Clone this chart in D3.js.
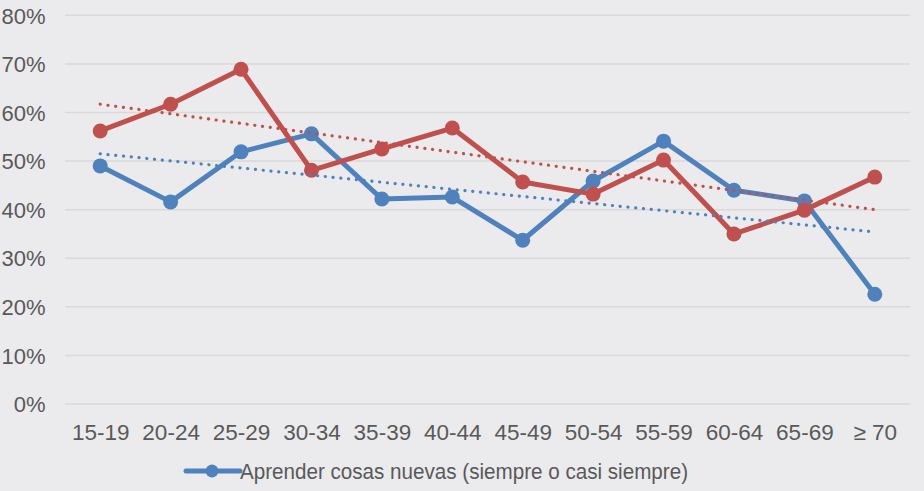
<!DOCTYPE html>
<html>
<head>
<meta charset="utf-8">
<script src="https://cdn.jsdelivr.net/npm/d3@7/dist/d3.min.js"></script>
<style>
  html, body { margin: 0; padding: 0; background: #ebebed; }
  svg { display: block; font-family: "Liberation Sans", Arial, sans-serif; }
</style>
</head>
<body>
<svg id="chart" width="924" height="491"></svg>
<script>
// Age groups along the horizontal axis
const categories = ["15-19", "20-24", "25-29", "30-34", "35-39", "40-44",
                    "45-49", "50-54", "55-59", "60-64", "65-69", "\u2265 70"];

// Share (%) per age group
const aprenderValues = [49.0, 41.6, 51.9, 55.6, 42.2, 42.6, 33.7, 45.9, 54.1, 44.0, 41.8, 22.6];
const seriesBValues  = [56.2, 61.7, 68.9, 48.1, 52.5, 56.8, 45.7, 43.2, 50.2, 35.0, 39.9, 46.7];

// Linear trend, value at the first and last age group
const aprenderTrend = [51.5, 35.4];
const seriesBTrend  = [61.7, 40.0];

const yTicks = [0, 10, 20, 30, 40, 50, 60, 70, 80];
const legendLabel = "Aprender cosas nuevas (siempre o casi siempre)";

const BLUE = "#4f81bd", RED = "#c0504d", TEXT = "#595959", GRID = "#d9d9d9";

const svg = d3.select("#chart");
svg.append("rect").attr("width", 924).attr("height", 491).attr("fill", "#ebebed");

const plot = { left: 65, right: 910, top: 15.3, bottom: 404 };

const x = d3.scalePoint().domain(categories).range([plot.left, plot.right]).padding(0.5);
const y = d3.scaleLinear().domain([0, 80]).range([plot.bottom, plot.top]);

// Horizontal gridlines
svg.append("g").selectAll("line").data(yTicks).join("line")
  .attr("x1", plot.left).attr("x2", plot.right)
  .attr("y1", d => y(d)).attr("y2", d => y(d))
  .attr("stroke", GRID).attr("stroke-width", 1.5);

// Y axis labels
const yAxis = d3.axisLeft(y).tickValues(yTicks).tickFormat(d => d + "%").tickSize(0).tickPadding(0);
const gy = svg.append("g").attr("transform", "translate(45.5,0)").call(yAxis);
gy.select(".domain").remove();
gy.selectAll("text").attr("fill", TEXT).style("font-size", "22px")
  .style("font-family", "'Liberation Sans', Arial, sans-serif").attr("dy", "0.35em");

// X axis labels
const xAxis = d3.axisBottom(x).tickSize(0).tickPadding(0);
const gx = svg.append("g").attr("transform", "translate(0,440)").call(xAxis);
gx.select(".domain").remove();
gx.selectAll("text").attr("fill", TEXT).style("font-size", "22.5px")
  .style("font-family", "'Liberation Sans', Arial, sans-serif").attr("dy", 0);

const line = d3.line().x((d, i) => x(categories[i])).y(d => y(d));

function drawSeries(values, color) {
  svg.append("path").datum(values).attr("d", line)
    .attr("fill", "none").attr("stroke", color).attr("stroke-width", 5)
    .attr("stroke-linejoin", "round");
  svg.append("g").selectAll("circle").data(values).join("circle")
    .attr("cx", (d, i) => x(categories[i])).attr("cy", d => y(d))
    .attr("r", 7.5).attr("fill", color);
}

function drawTrend(ends, color) {
  const first = categories[0], last = categories[categories.length - 1];
  svg.append("line")
    .attr("x1", x(first)).attr("y1", y(ends[0]))
    .attr("x2", x(last)).attr("y2", y(ends[1]))
    .attr("stroke", color).attr("stroke-width", 3.2)
    .attr("stroke-linecap", "round").attr("stroke-dasharray", "0.1 7.7");
}

drawSeries(aprenderValues, BLUE);
drawSeries(seriesBValues, RED);
drawTrend(aprenderTrend, BLUE);
drawTrend(seriesBTrend, RED);

// Legend
const lg = svg.append("g");
lg.append("line").attr("x1", 186).attr("x2", 240).attr("y1", 471).attr("y2", 471)
  .attr("stroke", BLUE).attr("stroke-width", 5).attr("stroke-linecap", "round");
lg.append("circle").attr("cx", 212).attr("cy", 471).attr("r", 6.5).attr("fill", BLUE);
lg.append("text").attr("x", 240).attr("y", 478.5).attr("fill", TEXT)
  .style("font-size", "22px").attr("textLength", 448).attr("lengthAdjust", "spacingAndGlyphs")
  .text(legendLabel);
</script>
</body>
</html>
